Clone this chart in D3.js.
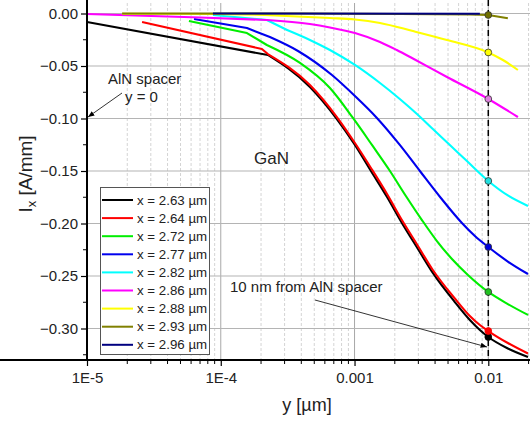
<!DOCTYPE html>
<html><head><meta charset="utf-8">
<script src="https://cdn.jsdelivr.net/npm/d3@7"></script>
<style>body{margin:0;background:#fff}svg{display:block;font-family:"Liberation Sans",Arial,sans-serif}</style>
</head><body><svg id="c" width="530" height="424"></svg>
<script>
const seriesNames = ["x = 2.63 µm","x = 2.64 µm","x = 2.72 µm","x = 2.77 µm","x = 2.82 µm","x = 2.86 µm","x = 2.88 µm","x = 2.93 µm","x = 2.96 µm"];
const seriesColors = ["#000000","#ff0000","#00ee00","#0000ee","#00ffff","#ff00ff","#ffff00","#808000","#000080"];
const dotFills = ["#000000","#ff0000","#20c020","#0000dd","#20e0e0","#e080e0","#ffff00","#707000",null];

const y263 = [1e-5,2.25e-4,4.64e-4,7.38e-4,1.007e-3,1.327e-3,1.75e-3,2.26e-3,2.98e-3,3.85e-3,5.62e-3,7.28e-3,8.65e-3,0.01,0.014,0.0198];
const I263 = [-0.0081,-0.0395,-0.070,-0.1005,-0.1252,-0.150,-0.1748,-0.1995,-0.2243,-0.2471,-0.2748,-0.2919,-0.3014,-0.3081,-0.319,-0.3271];
const y264 = [2.58e-5,2.03e-4,2.25e-4,4.64e-4,7.38e-4,1.007e-3,1.327e-3,1.75e-3,2.26e-3,2.98e-3,3.85e-3,5.62e-3,7.28e-3,8.65e-3,0.01,0.014,0.0198];
const I264 = [-0.0081,-0.0338,-0.0386,-0.0681,-0.0986,-0.1233,-0.1471,-0.1719,-0.1967,-0.2214,-0.2443,-0.2714,-0.2881,-0.2967,-0.3024,-0.3138,-0.3238];
const y272 = [5.78e-5,1.57e-4,2.21e-4,3.91e-4,6.55e-4,9.73e-4,1.35e-3,1.84e-3,2.42e-3,3.19e-3,4.13e-3,5.35e-3,7.04e-3,0.01,0.014,0.0198];
const I272 = [-0.0071,-0.0186,-0.030,-0.0471,-0.071,-0.0995,-0.1252,-0.150,-0.1738,-0.1967,-0.2167,-0.2338,-0.249,-0.2652,-0.2767,-0.2871];
const y277 = [6.31e-5,1.57e-4,2.33e-4,3.78e-4,6.78e-4,1.007e-3,1.47e-3,2.18e-3,3.08e-3,4.42e-3,6.35e-3,7.94e-3,0.01,0.014,0.0198];
const I277 = [-0.0052,-0.0138,-0.0224,-0.0357,-0.0586,-0.0786,-0.0995,-0.1252,-0.150,-0.1757,-0.1995,-0.2119,-0.2224,-0.2362,-0.2481];
const y282 = [8.74e-5,2.21e-4,3.13e-4,4.64e-4,6.55e-4,1.007e-3,1.55e-3,2.18e-3,2.93e-3,3.85e-3,5.16e-3,6.92e-3,0.01,0.014,0.0198];
const I282 = [-0.0014,-0.0062,-0.0157,-0.0252,-0.0348,-0.049,-0.0662,-0.0814,-0.0957,-0.110,-0.1252,-0.1405,-0.1595,-0.1733,-0.1833];
const y286 = [1e-5,7.0e-5,2.21e-4,4.64e-4,6.55e-4,1.007e-3,1.55e-3,2.07e-3,2.73e-3,4.91e-3,0.01,0.01664];
const I286 = [-0.0005,-0.0038,-0.0062,-0.010,-0.0133,-0.0186,-0.0271,-0.0348,-0.0429,-0.0605,-0.0814,-0.0986];
const y288 = [1.83e-5,8.74e-5,2.14e-4,6.55e-4,1.007e-3,1.55e-3,2.73e-3,4.91e-3,0.01,0.01286,0.01664];
const I288 = [-0.0002,-0.0005,-0.0014,-0.0043,-0.0057,-0.009,-0.0167,-0.0252,-0.0371,-0.0443,-0.0538];
const y293 = [1.83e-5,3.91e-4,2.18e-3,7.28e-3,0.01,0.014];
const I293 = [0,0,-0.0005,-0.001,-0.0014,-0.0046];
const y296 = [8.74e-5,8.65e-3];
const I296 = [0,-0.0002];
// number of leading (coarse-mesh) points joined by straight segments
const coarseHead = [2,3,3,3,3,3,3,6,2];

const dotY = 0.01;
const dotI = [-0.3081,-0.3024,-0.2652,-0.2224,-0.1595,-0.0814,-0.0371,-0.0014,null];

const yTicks = [0,-0.05,-0.10,-0.15,-0.20,-0.25,-0.30];
const xTicks = [1e-5,1e-4,1e-3,1e-2];
const xTickLabels = ["1E-5","1E-4","0.001","0.01"];

const allY = [y263,y264,y272,y277,y282,y286,y288,y293,y296];
const allI = [I263,I264,I272,I277,I282,I286,I288,I293,I296];

const svg = d3.select("#c");
const L = 87, R = 530, T = 3, B = 360;
const x = d3.scaleLog().domain([1e-5, 0.0205]).range([L, R]);
const y = d3.scaleLinear().domain([-0.33, 0.01]).range([B, T]);

// minor grid
const minors = [];
for (let k = -5; k <= -2; k++) for (let m = 2; m <= 9; m++) { const v = m * Math.pow(10, k); if (v < 0.0205) minors.push(v); }
svg.append("g").selectAll("line").data(minors).join("line")
  .attr("x1", d => x(d)).attr("x2", d => x(d)).attr("y1", T).attr("y2", B)
  .attr("stroke", "#d4d4d4").attr("stroke-width", 1).attr("stroke-dasharray", "3,2");
// major grid
svg.append("g").selectAll("line").data(xTicks.slice(1)).join("line")
  .attr("x1", d => x(d)).attr("x2", d => x(d)).attr("y1", T).attr("y2", B)
  .attr("stroke", "#a8a8a8").attr("stroke-width", 1);
svg.append("g").selectAll("line").data(yTicks).join("line")
  .attr("x1", L).attr("x2", R).attr("y1", d => y(d)).attr("y2", d => y(d))
  .attr("stroke", "#b4b4b4").attr("stroke-width", 1.2);

// dashed vertical line
svg.append("line").attr("x1", x(dotY)).attr("x2", x(dotY)).attr("y1", 0).attr("y2", B)
  .attr("stroke", "#000").attr("stroke-width", 1.5).attr("stroke-dasharray", "6,4");

// curves
const lineLin = d3.line().x(d => x(d[0])).y(d => y(d[1]));
const lineSmooth = d3.line().x(d => x(d[0])).y(d => y(d[1])).curve(d3.curveMonotoneX);
allY.forEach((ys, i) => {
  const pts = ys.map((v, j) => [v, allI[i][j]]);
  const k = coarseHead[i];
  let d = lineLin(pts.slice(0, k));
  if (k < pts.length) d += lineSmooth(pts.slice(k - 1)).replace(/^M/, "L");
  svg.append("path").attr("d", d).attr("fill", "none")
    .attr("stroke", seriesColors[i]).attr("stroke-width", 2.1).attr("stroke-linejoin", "round");
});

// dots at 0.01
dotI.forEach((v, i) => {
  if (v === null) return;
  svg.append("circle").attr("cx", x(dotY)).attr("cy", y(v)).attr("r", 3.4)
    .attr("fill", dotFills[i]).attr("stroke", i < 2 ? seriesColors[i] : "#333").attr("stroke-width", 0.8);
});

// axes
const yAxis = d3.axisLeft(y).tickValues(yTicks).tickFormat(d3.format(".2f")).tickSize(6).tickPadding(3);
const gy = svg.append("g").attr("transform", `translate(${L},0)`).call(yAxis);
const yMinor = [-0.325,-0.275,-0.225,-0.175,-0.125,-0.075,-0.025];
svg.append("g").selectAll("line").data(yMinor).join("line")
  .attr("x1", L - 4).attr("x2", L).attr("y1", d => y(d)).attr("y2", d => y(d)).attr("stroke", "#000").attr("stroke-width", 1);
const xAxis = d3.axisBottom(x).tickValues(xTicks).tickFormat((d, i) => xTickLabels[i]).tickSize(6).tickPadding(6);
const gx = svg.append("g").attr("transform", `translate(0,${B})`).call(xAxis);
svg.append("g").selectAll("line").data(minors).join("line")
  .attr("x1", d => x(d)).attr("x2", d => x(d)).attr("y1", B).attr("y2", B + 4).attr("stroke", "#000").attr("stroke-width", 1);
[gx, gy].forEach(g => {
  g.select(".domain").attr("stroke", "#000").attr("stroke-width", 2);
  g.selectAll(".tick line").attr("stroke", "#000").attr("stroke-width", 1.2);
  g.selectAll(".tick text").attr("font-size", 15).attr("fill", "#222").attr("font-family", "Liberation Sans, Arial, sans-serif");
});
gy.select(".domain").attr("d", `M0,${T - 3}V${B}`);
gx.select(".domain").attr("d", `M0,0H${R}`);

// axis titles
svg.append("text").attr("x", 307).attr("y", 411).attr("text-anchor", "middle").attr("font-size", 18).attr("fill", "#222").text("y [µm]");
const yt = svg.append("text").attr("transform", "translate(32,174) rotate(-90)").attr("text-anchor", "middle").attr("font-size", 19).attr("fill", "#222");
yt.append("tspan").text("I");
yt.append("tspan").attr("font-size", 13).attr("dy", 4).text("x");
yt.append("tspan").attr("dy", -4).text(" [A/mm]");

// legend
const lg = svg.append("g");
lg.append("rect").attr("x", 100.5).attr("y", 187.5).attr("width", 109).attr("height", 167)
  .attr("fill", "#fff").attr("stroke", "#555").attr("stroke-width", 1);
seriesNames.forEach((n, i) => {
  const yy = 200 + i * 18.1;
  lg.append("line").attr("x1", 102).attr("x2", 133).attr("y1", yy).attr("y2", yy)
    .attr("stroke", seriesColors[i]).attr("stroke-width", 2);
  lg.append("text").attr("x", 137).attr("y", yy + 4.5).attr("font-size", 13.3).attr("fill", "#222").text(n);
});

// annotations
const defs = svg.append("defs");
defs.append("marker").attr("id", "ah").attr("viewBox", "0 0 10 10").attr("refX", 10).attr("refY", 5)
  .attr("markerWidth", 8).attr("markerHeight", 8).attr("orient", "auto")
  .append("path").attr("d", "M0,1L10,5L0,9z").attr("fill", "#000");
svg.append("text").attr("x", 108).attr("y", 84).attr("font-size", 15).attr("fill", "#222").text("AlN spacer");
svg.append("text").attr("x", 125).attr("y", 102).attr("font-size", 15).attr("fill", "#222").text("y = 0");
svg.append("line").attr("x1", 122).attr("y1", 93).attr("x2", 88).attr("y2", 117).attr("stroke", "#000").attr("stroke-width", 0.8).attr("marker-end", "url(#ah)");
svg.append("text").attr("x", 254).attr("y", 164).attr("font-size", 17).attr("fill", "#222").text("GaN");
svg.append("text").attr("x", 230).attr("y", 292).attr("font-size", 15).attr("fill", "#222").text("10 nm from AlN spacer");
svg.append("line").attr("x1", 315).attr("y1", 300).attr("x2", 487).attr("y2", 347).attr("stroke", "#000").attr("stroke-width", 0.8).attr("marker-end", "url(#ah)");
</script></body></html>
